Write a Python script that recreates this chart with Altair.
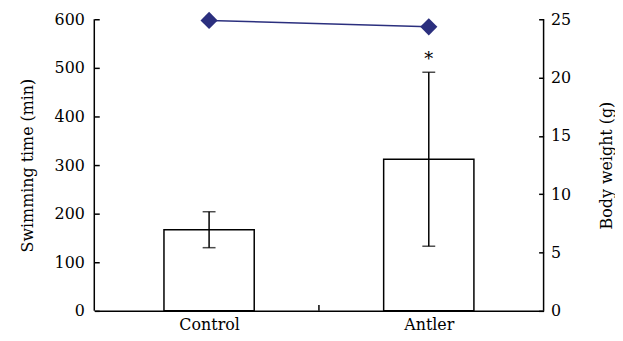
import altair as alt
import pandas as pd

groups = ["Control", "Antler"]
swim_mean = [167, 312]
swim_err = [37, 179]
body_weight = [24.9, 24.35]
sig_marks = ["", "*"]

df = pd.DataFrame({"group": groups, "swim": swim_mean, "err": swim_err,
                   "weight": body_weight, "sig": sig_marks})

W, H = 453, 294
FONT = "DejaVu Serif"
NAVY = "#2b2f7e"

base = alt.Chart(df).transform_calculate(
    pos="indexof(['Control','Antler'], datum.group) + 0.5",
    lo="datum.swim - datum.err",
    hi="datum.swim + datum.err",
)

xscale = alt.Scale(domain=[0, 2], nice=False, zero=False)
x_axis = alt.Axis(values=[0.5, 1.5], labelExpr="['Control','Antler'][floor(datum.value)]",
                  ticks=False, domain=True, domainColor="black", domainWidth=1.5,
                  grid=False, title=None, labelPadding=6)
x_main = alt.X("pos:Q", scale=xscale, axis=x_axis)

yl_scale = alt.Scale(domain=[0, 600], nice=False)
yl_axis = alt.Axis(orient="left", values=list(range(0, 601, 100)), title="Swimming time (min)",
                   offset=-5, tickSize=5, domain=False, grid=False,
                   labelPadding=10, titlePadding=19)


def yl(field):
    return alt.Y(field, scale=yl_scale, axis=yl_axis)


bars = base.mark_bar(size=91, fill="white", stroke="black", strokeWidth=1.5).encode(x=x_main, y=yl("swim:Q"))
errs = base.mark_rule(color="black", strokeWidth=1.5).encode(x=x_main, y=yl("lo:Q"), y2="hi:Q")
cap_hi = base.mark_tick(orient="horizontal", size=13, thickness=1.5, color="black").encode(
    x=x_main, y=yl("hi:Q"))
cap_lo = base.mark_tick(orient="horizontal", size=13, thickness=1.5, color="black").encode(
    x=x_main, y=yl("lo:Q"))
star = base.mark_text(dy=-12, fontSize=18, font=FONT, color="black").encode(
    x=x_main, y=yl("hi:Q"), text="sig:N")

left = alt.layer(bars, errs, cap_hi, cap_lo, star)

yr_scale = alt.Scale(domain=[0, 25], nice=False)
yr_axis = alt.Axis(orient="right", values=[0, 5, 10, 15, 20, 25], title="Body weight (g)",
                   offset=-5, tickSize=5, domain=False, grid=False,
                   labelPadding=7, titlePadding=44, titleAngle=270)
y_right = alt.Y("weight:Q", scale=yr_scale, axis=yr_axis)
line = base.mark_line(color=NAVY, strokeWidth=1.5).encode(x=x_main, y=y_right)
pts = base.mark_point(shape="diamond", filled=True, size=300, color=NAVY, opacity=1).encode(
    x=x_main, y=y_right)
right = alt.layer(line, pts)

deco = alt.Chart(pd.DataFrame({"k": [0]}))
mid_tick = deco.mark_rule(color="black", strokeWidth=1.5).encode(
    x=alt.X(datum=1, type="quantitative", scale=xscale, axis=x_axis),
    y=alt.value(H - 6), y2=alt.value(H))
left_line = deco.mark_rule(color="black", strokeWidth=1.5).encode(
    x=alt.value(0), y=alt.value(0), y2=alt.value(H))
right_line = deco.mark_rule(color="black", strokeWidth=1.5).encode(
    x=alt.value(W), y=alt.value(0), y2=alt.value(H))

chart = alt.layer(left, right, mid_tick, left_line, right_line).resolve_scale(
    y="independent"
).properties(
    width=W, height=H,
    padding={"left": 87, "top": 10, "right": 72, "bottom": 26},
    autosize=alt.AutoSizeParams(type="none"),
).configure_axis(
    labelFont=FONT, titleFont=FONT, labelFontSize=16, titleFontSize=16,
    labelColor="black", titleColor="black", tickColor="black", tickWidth=1.5,
    titleFontWeight="normal",
).configure_view(stroke=None)

chart.save("out.html", embed_options={"renderer": "svg", "actions": False})
